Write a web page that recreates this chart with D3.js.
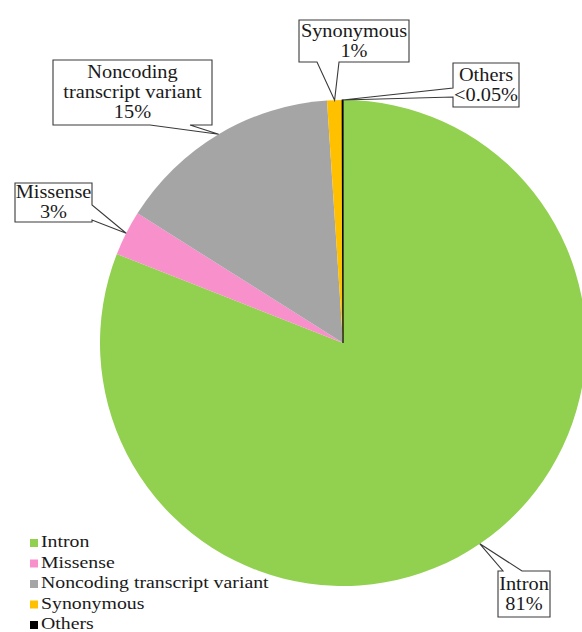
<!DOCTYPE html>
<html><head><meta charset="utf-8"><script src="https://cdn.jsdelivr.net/npm/d3@7"></script></head>
<body style="margin:0">
<svg id="chart" width="582" height="632" style="display:block"></svg>
<script>
// Variant categories and their share of all variants (%)
const categories = ["Intron", "Missense", "Noncoding transcript variant", "Synonymous", "Others"];
const shares = [81, 3, 15, 1, 0.05];
const valueLabels = ["81%", "3%", "15%", "1%", "<0.05%"];
const calloutNames = [["Intron"], ["Missense"], ["Noncoding", "transcript variant"], ["Synonymous"], ["Others"]];
const colors = ["#92d050", "#f790cb", "#a5a5a5", "#ffc000", "#000000"];

// Callout boxes: box rectangle and where the pointer leaves the box
const calloutBoxes = [
  { x: 498, y: 571, w: 52, h: 46, side: "top", a: 503, b: 522 },
  { x: 15, y: 183, w: 77, h: 39, side: "right", a: 205, b: 220 },
  { x: 53, y: 60, w: 159, h: 65, side: "bottom", a: 150, b: 190 },
  { x: 299, y: 20, w: 110, h: 42, side: "bottom", a: 317, b: 339 },
  { x: 453, y: 63, w: 66, h: 44, side: "left", a: 88, b: 97 }
];

const svg = d3.select("#chart");
const cx = 343, cy = 343, radius = 243;

const data = categories.map((c, i) => ({ name: c, value: shares[i], color: colors[i], label: valueLabels[i], lines: calloutNames[i], box: calloutBoxes[i] }));

const pie = d3.pie().sort(null).value(d => d.value);
const arcs = pie(data);
const arc = d3.arc().innerRadius(0).outerRadius(radius);

svg.selectAll("path.slice")
  .data(arcs)
  .join("path")
  .attr("class", "slice")
  .attr("transform", `translate(${cx},${cy})`)
  .attr("d", arc)
  .attr("fill", d => d.data.color)
  .attr("stroke", d => d.data.name === "Others" ? "#000" : "none")
  .attr("stroke-width", 1.2);

// Callout shape: rectangle with a wedge pointing to the slice edge
function calloutPath(b, tip) {
  const x0 = b.x, y0 = b.y, x1 = b.x + b.w, y1 = b.y + b.h;
  const p = [];
  p.push([x0, y0]);
  if (b.side === "top") { p.push([b.a, y0], tip, [b.b, y0]); }
  p.push([x1, y0]);
  if (b.side === "right") { p.push([x1, b.a], tip, [x1, b.b]); }
  p.push([x1, y1]);
  if (b.side === "bottom") { p.push([b.b, y1], tip, [b.a, y1]); }
  p.push([x0, y1]);
  if (b.side === "left") { p.push([x0, b.b], tip, [x0, b.a]); }
  return "M" + p.map(q => q.join(",")).join("L") + "Z";
}

arcs.forEach(a => {
  const mid = (a.startAngle + a.endAngle) / 2;
  const tip = [cx + radius * Math.sin(mid), cy - radius * Math.cos(mid)];
  const b = a.data.box;
  svg.append("path")
    .attr("d", calloutPath(b, tip))
    .attr("fill", "#fff")
    .attr("stroke", "#3a3a3a")
    .attr("stroke-width", 1.1)
    .attr("stroke-linejoin", "miter");
  const lines = a.data.lines.concat([a.data.label]);
  const lh = 20;
  const firstBase = b.y + (b.h - lh * lines.length) / 2 + 15.5;
  lines.forEach((t, i) => {
    svg.append("text")
      .attr("font-family", "Tinos")
      .style("font-family", "Tinos")
      .attr("font-size", 18.5)
      .attr("text-anchor", "middle")
      .attr("fill", "#1a1a1a")
      .attr("transform", `translate(${b.x + b.w / 2},${firstBase + i * lh}) scale(1.1,1)`)
      .text(t);
  });
});

// Legend
data.forEach((d, i) => {
  const y = 547 + i * 20.5;
  svg.append("rect")
    .attr("x", 30).attr("y", y - 8).attr("width", 8).attr("height", 8)
    .attr("fill", d.color);
  svg.append("text")
    .attr("font-family", "Tinos")
    .style("font-family", "Tinos")
    .attr("font-size", 16.5)
    .attr("fill", "#1a1a1a")
    .attr("transform", `translate(41,${y}) scale(1.2,1)`)
    .text(d.name);
});
</script>
</body>
</html>
